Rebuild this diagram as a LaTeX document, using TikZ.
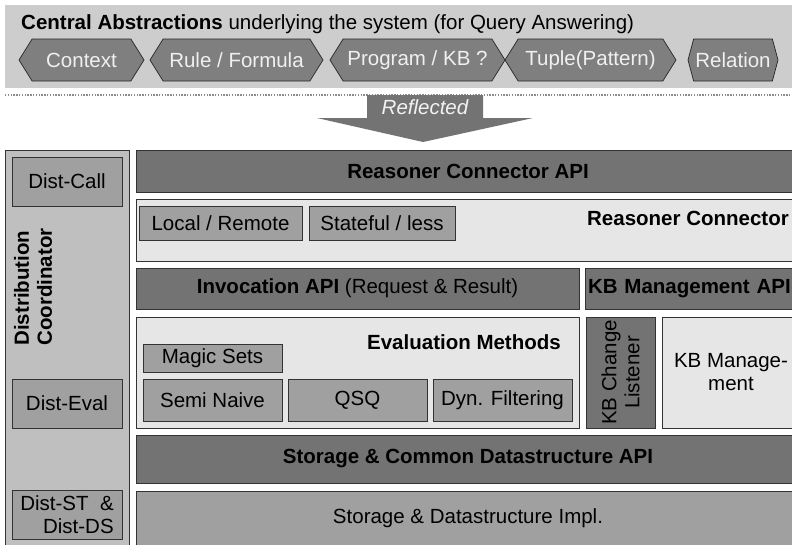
\documentclass[tikz,border=0pt]{standalone}
\usepackage{fontspec}
\setmainfont{Liberation Sans}
\usetikzlibrary{shapes.symbols}

\definecolor{bandgray}{HTML}{CDCDCD}
\definecolor{hexgray}{HTML}{7F7F7F}
\definecolor{apigray}{HTML}{737373}
\definecolor{midgray}{HTML}{A0A0A0}
\definecolor{panelgray}{HTML}{E6E6E6}
\definecolor{colgray}{HTML}{BFBFBF}

\begin{document}
\begin{tikzpicture}[
  x=1pt,y=-1pt,
  font=\fontsize{20.5}{23}\selectfont,
  box/.style={draw=black!80,line width=0.8pt,inner sep=0pt,align=center},
  api/.style={box,fill=apigray,font=\fontsize{20.5}{23}\selectfont\bfseries},
  panel/.style={box,fill=panelgray},
  part/.style={box,fill=midgray},
  hexa/.style={draw=black!85,line width=0.7pt,fill=hexgray,text=black!6,
    shape=signal,signal to=east and west,signal pointer angle=116,
    inner xsep=0pt,minimum height=42,inner ysep=0pt},
  ttl/.style={font=\fontsize{20.5}{23}\selectfont\bfseries,inner sep=0pt}
]
\clip (0,0) rectangle (792,544);
\fill[white] (0,0) rectangle (792,544);

% ---- central abstractions ----
\fill[bandgray] (5,5) rectangle (800,88);
\node[inner sep=0pt,anchor=base west] (title) at (21,29.5)
  {\textbf{Central Abstractions} underlying the system (for Query Answering)};
\node[hexa,minimum width=125] (context)  at (81.5,60)  {Context};
\node[hexa,minimum width=173] (rule)     at (236.5,60) {Rule / Formula};
\node[hexa,minimum width=175] (program)  at (417.5,60) {Program / KB ?};
\node[hexa,minimum width=171] (tuple)    at (590.5,60) {Tuple(Pattern)};
\node[hexa,minimum width=90,signal pointer angle=150] (relation) at (733,60) {Relation};
\draw[black!45,line width=1.2pt,dash pattern=on 1.4pt off 1.4pt] (5,95) -- (800,95);

% ---- reflected arrow ----
\fill[apigray] (367,95) -- (483,95) -- (483,118) -- (533,118) -- (423,142)
  -- (317,118) -- (367,118) -- cycle;
\node[text=black!5,font=\fontsize{20.5}{23}\selectfont\itshape] (refl) at (425,107) {Reflected};

% ---- distribution coordinator ----
\node[box,fill=colgray,minimum width=124,minimum height=400] (distco) at (67,350) {};
\node[ttl,rotate=90,align=left] (distlbl) at (33,287) {Distribution\\Coordinator};
\node[part,minimum width=110,minimum height=49] (distcall) at (67,181.5) {Dist-Call};
\node[part,minimum width=110,minimum height=49] (disteval) at (67,403.5) {Dist-Eval};
\node[part,minimum width=110,minimum height=49,align=right] (distst) at (67,514.5)
  {Dist-ST\ \ \&\\Dist-DS};

% ---- reasoner connector ----
\node[api,minimum width=664,minimum height=42] (rcapi) at (468,171) {Reasoner Connector API};
\node[panel,minimum width=664,minimum height=62] (rcpanel) at (468,230) {};
\node[ttl,anchor=east] (rclbl) at (789,218) {Reasoner Connector};
\node[part,minimum width=163,minimum height=34] (local) at (220.5,223) {Local / Remote};
\node[part,minimum width=146,minimum height=34] (stateful) at (382,223) {Stateful / less};

% ---- invocation and kb management ----
\node[api,minimum width=443,minimum height=41] (invapi) at (357.5,288.5)
  {Invocation API \mdseries(Request \& Result)};
\node[api,minimum width=215,minimum height=41,text width=209,align=left] (kbapi) at (692.5,288.5)
  {KB Management API};

% ---- evaluation methods ----
\node[panel,minimum width=443,minimum height=111] (evalpanel) at (357.5,372.5) {};
\node[ttl,anchor=east] (evallbl) at (561,342) {Evaluation Methods};
\node[part,minimum width=139,minimum height=28] (magic) at (212.5,358) {Magic Sets};
\node[part,minimum width=139,minimum height=42] (semi)  at (212.5,400) {Semi Naive};
\node[part,minimum width=139,minimum height=42] (qsq)   at (357.5,400) {QSQ};
\node[part,minimum width=139,minimum height=42] (dyn)   at (502.5,400) {Dyn. Filtering};

\node[box,fill=apigray,rotate=90,minimum width=111,minimum height=69] (kblisten)
  at (620.5,372.5) {KB Change\\Listener};
\node[panel,minimum width=138,minimum height=111] (kbmgmt) at (731,372.5) {KB Manage-\\ment};

% ---- storage ----
\node[api,minimum width=664,minimum height=48] (stapi) at (468,459)
  {Storage \& Common Datastructure API};
\node[part,minimum width=664,minimum height=54] (stimpl) at (468,518)
  {Storage \& Datastructure Impl.};

\end{tikzpicture}
\end{document}
